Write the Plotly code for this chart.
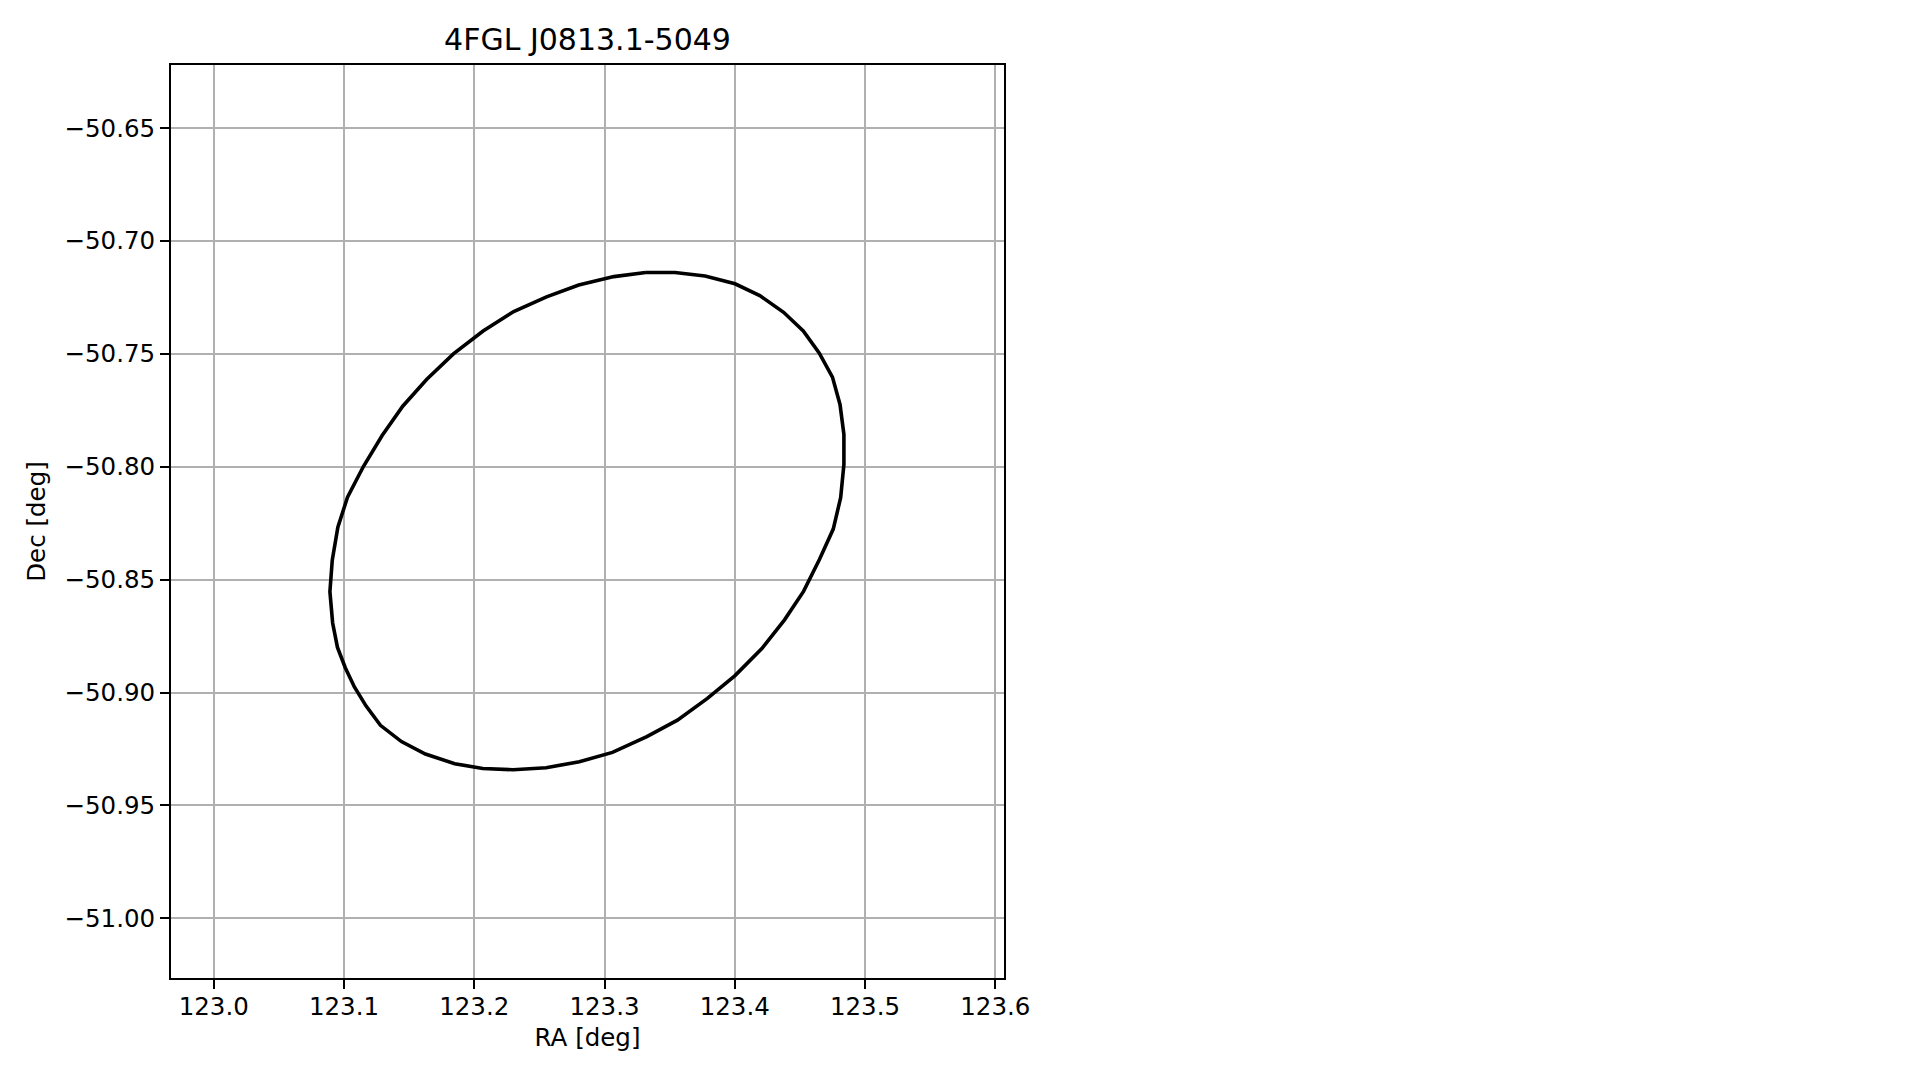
import plotly.graph_objects as go

# Ellipse outline, RA / Dec in degrees
ra = [123.3316, 123.3541, 123.3772, 123.4002, 123.4192, 123.4375, 123.4526, 123.4648,
      123.4750, 123.4808, 123.4838, 123.4838, 123.4813, 123.4756, 123.4650, 123.4528,
      123.4382, 123.4208, 123.4002, 123.3790, 123.3560, 123.3325, 123.3061, 123.2807,
      123.2552, 123.2298, 123.2065, 123.1850, 123.1625, 123.1441, 123.1280, 123.1170,
      123.1080, 123.1010, 123.0950, 123.0913, 123.0892, 123.0910, 123.0953, 123.1027,
      123.1150, 123.1293, 123.1451, 123.1634, 123.1840, 123.2068, 123.2303, 123.2555,
      123.2802, 123.3072, 123.3316]
dec = [-50.7140, -50.7140, -50.7155, -50.7190, -50.7242, -50.7316, -50.7399, -50.7496,
       -50.7603, -50.7724, -50.7857, -50.7990, -50.8137, -50.8276, -50.8411, -50.8552,
       -50.8678, -50.8805, -50.8925, -50.9026, -50.9122, -50.9195, -50.9265, -50.9306,
       -50.9333, -50.9342, -50.9336, -50.9315, -50.9272, -50.9217, -50.9145, -50.9060,
       -50.8975, -50.8890, -50.8800, -50.8692, -50.8553, -50.8414, -50.8268, -50.8135,
       -50.7998, -50.7862, -50.7732, -50.7614, -50.7500, -50.7399, -50.7313, -50.7248,
       -50.7195, -50.7158, -50.7140]

x_tickvals = [123.0, 123.1, 123.2, 123.3, 123.4, 123.5, 123.6]
x_ticktext = ["123.0", "123.1", "123.2", "123.3", "123.4", "123.5", "123.6"]
y_tickvals = [-50.65, -50.70, -50.75, -50.80, -50.85, -50.90, -50.95, -51.00]
y_ticktext = ["\u221250.65", "\u221250.70", "\u221250.75", "\u221250.80",
              "\u221250.85", "\u221250.90", "\u221250.95", "\u221251.00"]

title_text = "4FGL J0813.1-5049"
x_label = "RA [deg]"
y_label = "Dec [deg]"

FONT = "DejaVu Sans"
TICK_SIZE = 24.5

fig = go.Figure()
fig.add_trace(go.Scatter(x=ra, y=dec, mode="lines",
                         line=dict(color="black", width=3.6),
                         showlegend=False, hoverinfo="skip"))

axis_common = dict(
    showline=True, mirror=True, linecolor="black", linewidth=2,
    showgrid=True, gridcolor="#b0b0b0", gridwidth=2,
    zeroline=False,
    ticks="outside", ticklen=9, tickwidth=2, tickcolor="black",
    tickfont=dict(family=FONT, size=TICK_SIZE, color="black"),
)

fig.update_xaxes(range=[122.9672, 123.6067], tickmode="array",
                 tickvals=x_tickvals, ticktext=x_ticktext, ticklabelstandoff=-3,
                 title=dict(text=x_label, font=dict(family=FONT, size=TICK_SIZE, color="black"),
                            standoff=8),
                 **axis_common)
fig.update_yaxes(range=[-51.0264, -50.6221], tickmode="array",
                 tickvals=y_tickvals, ticktext=y_ticktext,
                 title=dict(text=y_label, font=dict(family=FONT, size=TICK_SIZE, color="black"),
                            standoff=12),
                 **axis_common)

# page body adds an 8 px offset, so margins are reduced by 8 px on top/left
fig.update_layout(
    width=1919, height=1080,
    margin=dict(l=163, r=923, t=57, b=110, autoexpand=False),
    paper_bgcolor="white", plot_bgcolor="white",
    font=dict(family=FONT, color="black"),
    title=dict(text=title_text, font=dict(family=FONT, size=30, color="black"),
               x=0.5, xref="paper", xanchor="center",
               y=1 - 31 / 1080, yref="container", yanchor="middle"),
)

fig.write_html("out.html")
